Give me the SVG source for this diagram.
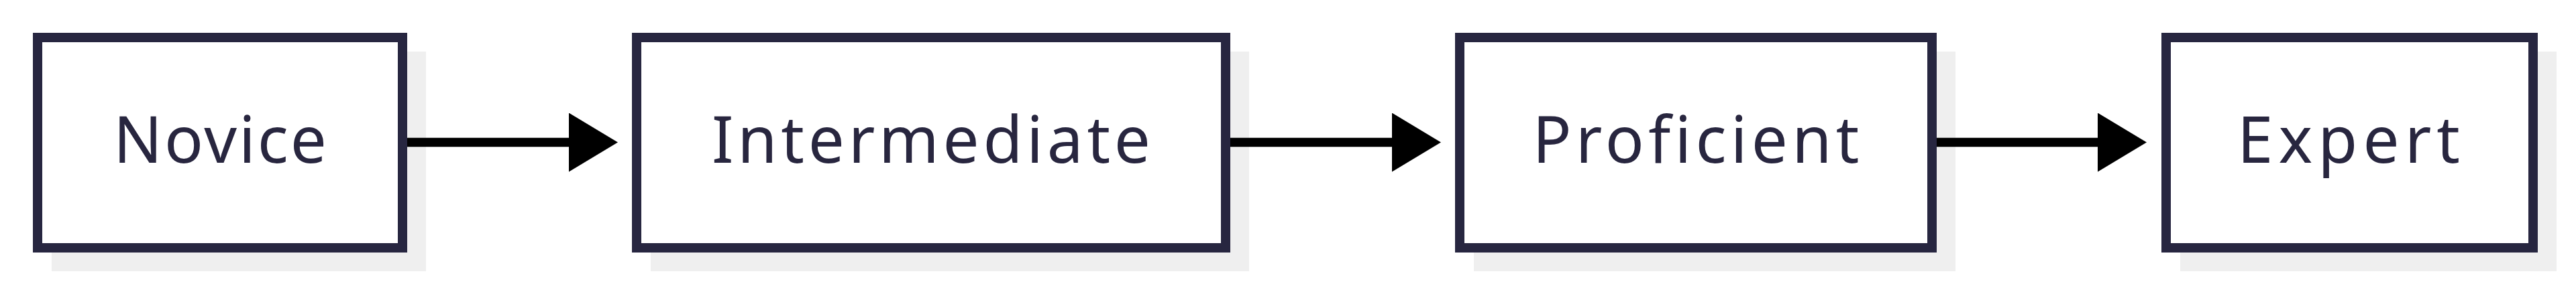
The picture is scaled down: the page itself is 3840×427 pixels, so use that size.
<svg xmlns="http://www.w3.org/2000/svg" width="3840" height="427" viewBox="0 0 3840 427">
  <style>
    .shadow { fill: #efefef; stroke: none; }
    .box { fill: #ffffff; stroke: #272640; stroke-width: 14; }
    .label { font-family: "Noto Sans", "Open Sans", "DejaVu Sans", sans-serif; font-size: 96px; font-variant-ligatures: none; fill: #28263f; text-anchor: middle; }
    .edge { stroke: #000000; stroke-width: 13.5; fill: none; }
  </style>
  <defs>
    <marker id="arrow" markerUnits="userSpaceOnUse" markerWidth="73" markerHeight="88" viewBox="0 0 73 88" refX="0" refY="44" orient="auto">
      <path d="M0,0 L73,44 L0,88 Z" fill="#000000"/>
    </marker>
  </defs>
  <rect width="3840" height="427" fill="#ffffff"/>

  <g id="node-novice">
    <rect class="shadow" x="77" y="77" width="558" height="328"/>
    <rect class="box" x="56" y="56" width="544" height="314"/>
    <text class="label" x="328" y="243" textLength="318" lengthAdjust="spacing">Novice</text>
  </g>

  <g id="node-intermediate">
    <rect class="shadow" x="970" y="77" width="892" height="328"/>
    <rect class="box" x="949" y="56" width="878" height="314"/>
    <text class="label" x="1388" y="243" textLength="654" lengthAdjust="spacing">Intermediate</text>
  </g>

  <g id="node-proficient">
    <rect class="shadow" x="2197" y="77" width="718" height="328"/>
    <rect class="box" x="2176" y="56" width="704" height="314"/>
    <text class="label" x="2528" y="243" textLength="487" lengthAdjust="spacing">Proficient</text>
  </g>

  <g id="node-expert">
    <rect class="shadow" x="3250" y="77" width="561" height="328"/>
    <rect class="box" x="3229" y="56" width="547" height="314"/>
    <text class="label" x="3501" y="243" textLength="332" lengthAdjust="spacing">Expert</text>
  </g>

  <g id="connectors">
    <path class="edge" d="M607,212.5 L848,212.5" marker-end="url(#arrow)"/>
    <path class="edge" d="M1834,212.5 L2075,212.5" marker-end="url(#arrow)"/>
    <path class="edge" d="M2887,212.5 L3127,212.5" marker-end="url(#arrow)"/>
  </g>
</svg>
